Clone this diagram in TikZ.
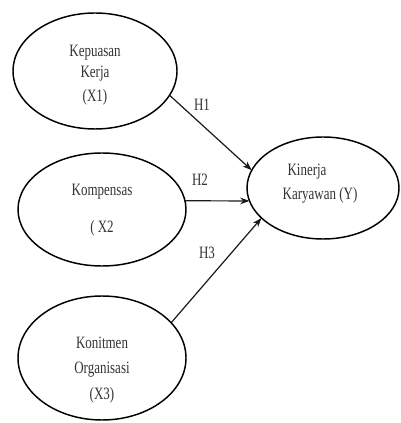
\documentclass[tikz,border=0pt]{standalone}
\usepackage{fontspec}
\setmainfont{Liberation Serif}
\newfontfamily\narrowserif[FakeStretch=0.75]{Liberation Serif}
\usetikzlibrary{shapes.geometric,arrows.meta}
\tikzset{
  latent/.style={ellipse, draw=black, line width=1.1pt, inner sep=0pt, outer sep=0pt},
  lbl/.style={font=\narrowserif\fontsize{13}{16}\selectfont, text=black!80, inner sep=0pt, align=center},
  path/.style={draw=black!90, line width=0.9pt, -{Stealth[length=7pt,width=5pt]}}
}
\begin{document}
\begin{tikzpicture}[x=0.75pt,y=-0.75pt]
\useasboundingbox (0,0) rectangle (400,423);
% ellipses
\node[latent, minimum width=164*0.75pt, minimum height=116*0.75pt] (e1) at (95,71) {};
\node[latent, minimum width=168*0.75pt, minimum height=113*0.75pt] (e2) at (102,209.5) {};
\node[latent, minimum width=168*0.75pt, minimum height=124*0.75pt] (e3) at (102,358) {};
\node[latent, minimum width=152*0.75pt, minimum height=102*0.75pt] (e4) at (323,188) {};
% texts
\node[lbl] (t1a) at (95,53) {Kepuasan};
\node[lbl] (t1b) at (95,74) {Kerja};
\node[lbl] (t1c) at (95,97) {(X1)};
\node[lbl] (t2a) at (102,192) {Kompensas};
\node[lbl] (t2b) at (102,228) {( X2};
\node[lbl] (t3a) at (102,343) {Konitmen};
\node[lbl] (t3b) at (102,370) {Organisasi};
\node[lbl] (t3c) at (102,395) {(X3)};
\node[lbl] (t4a) at (307,172) {Kinerja};
\node[lbl] (t4b) at (320,195) {Karyawan (Y)};
% connectors
\draw[path] (e1.-18) -- (e4.166);
\draw[path] (e2.6) -- (e4.190);
\draw[path] (e3.27) -- (e4.206);
% labels
\node[lbl] (h1) at (202,105) {H1};
\node[lbl] (h2) at (200,180) {H2};
\node[lbl] (h3) at (207,253) {H3};
\end{tikzpicture}
\end{document}
